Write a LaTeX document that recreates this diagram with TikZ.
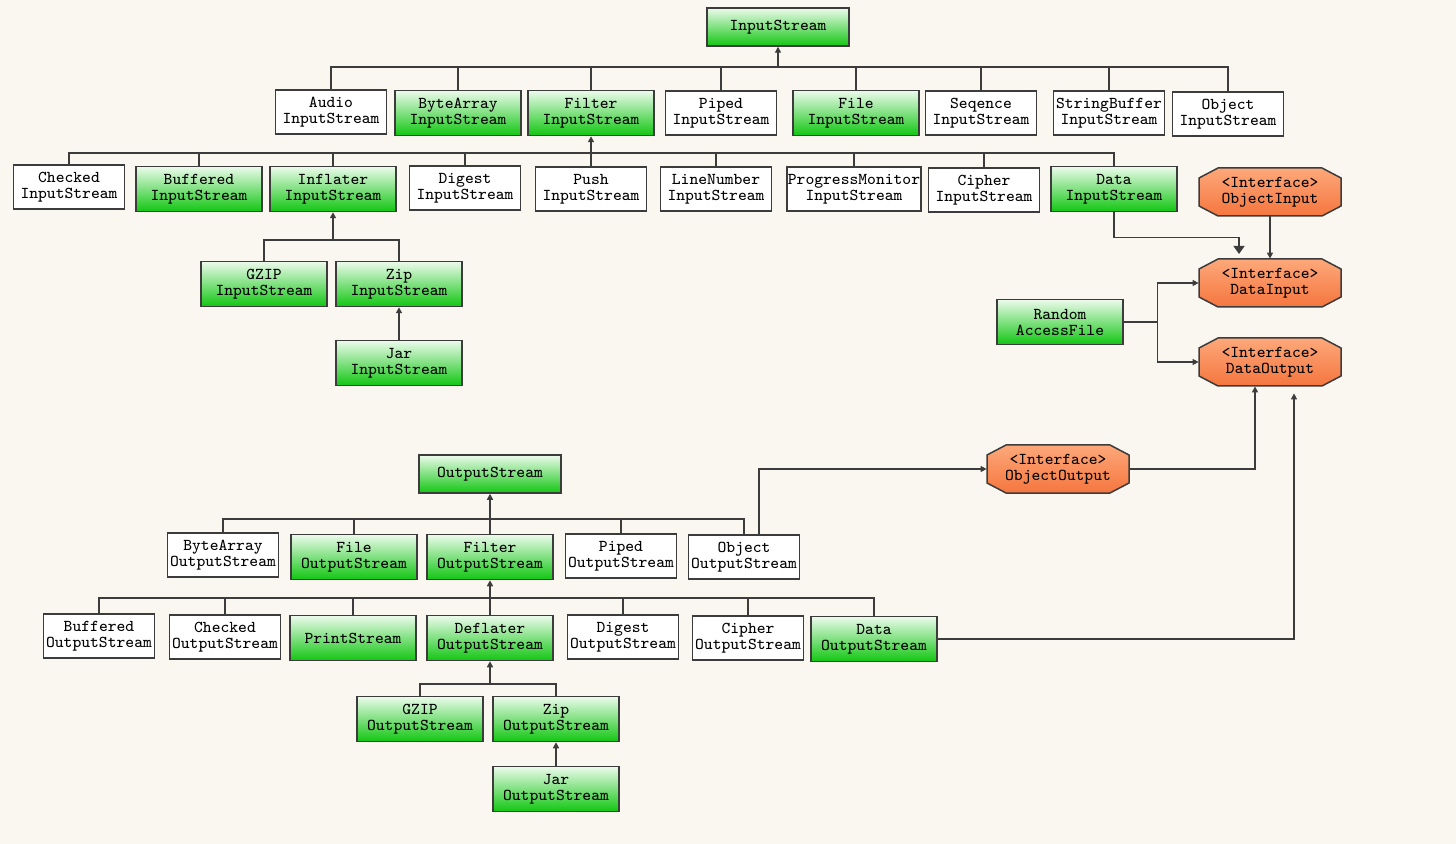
\documentclass[tikz,border=0pt]{standalone}
\usepackage{fontspec}
\usepackage{tikz}
\usetikzlibrary{positioning,calc}
\usetikzlibrary{arrows.meta}
\definecolor{Paper}{RGB}{250,247,240}
\definecolor{EdgeGray}{RGB}{60,60,60}
\definecolor{GreenTop}{RGB}{236,251,236}
\definecolor{GreenBot}{RGB}{18,198,18}
\definecolor{OrangeTop}{RGB}{253,168,122}
\definecolor{OrangeBot}{RGB}{245,118,62}
\newcommand\boxfont{\ttfamily\fontsize{8.3}{8}\selectfont}
\tikzset{
  wbox/.style={draw=EdgeGray,fill=white,line width=0.75pt,inner sep=0.5pt,
    minimum width=55.5pt,minimum height=22pt,align=center,font=\boxfont},
  gbox/.style={wbox,top color=GreenTop,bottom color=GreenBot,
    minimum width=63pt,minimum height=22.5pt},
  iface/.style={inner sep=0pt,minimum width=71pt,minimum height=24pt,align=center,font=\boxfont},
  octfill/.style={draw=EdgeGray,line width=0.75pt,top color=OrangeTop,bottom color=OrangeBot},
}
\tikzset{link/.style={draw=EdgeGray,line width=0.7pt}, arr/.style={link,-{Triangle[length=3pt,width=3pt]}},bigarr/.style={link,-{Triangle[length=4pt,width=5.5pt]}}}
\newcommand\octbox[1]{\shade[octfill] ($(#1)+(-52,-24)$) -- ($(#1)+(52,-24)$) -- ($(#1)+(71,-14)$) -- ($(#1)+(71,14)$) -- ($(#1)+(52,24)$) -- ($(#1)+(-52,24)$) -- ($(#1)+(-71,14)$) -- ($(#1)+(-71,-14)$) -- cycle;}

\begin{document}
\begin{tikzpicture}[x=0.5pt,y=-0.5pt]
\fill[Paper] (0,0) rectangle (1456,844);
\useasboundingbox (0,0) rectangle (1456,844);
\coordinate (busA) at (0,67);
\coordinate (busB) at (0,153);
\coordinate (busInf) at (0,240);
\coordinate (busC) at (0,519);
\coordinate (busD) at (0,598);
\coordinate (busE) at (0,684);

\node[gbox,minimum width=71pt,minimum height=19pt] (InS) at (778,27) {InputStream};
\node[wbox] (AudioIS) at (331,112) {Audio\\InputStream};
\node[gbox] (ByteIS) at (458,113) {ByteArray\\InputStream};
\node[gbox] (FilterIS) at (591,113) {Filter\\InputStream};
\node[wbox] (PipedIS) at (721,113) {Piped\\InputStream};
\node[gbox] (FileIS) at (856,113) {File\\InputStream};
\node[wbox] (SeqIS) at (981,113) {Seqence\\InputStream};
\node[wbox] (SbIS) at (1109,113) {StringBuffer\\InputStream};
\node[wbox] (ObjIS) at (1228,114) {Object\\InputStream};

\node[wbox] (CheckedIS) at (69,187) {Checked\\InputStream};
\node[gbox] (BufIS) at (199,189) {Buffered\\InputStream};
\node[gbox] (InfIS) at (333,189) {Inflater\\InputStream};
\node[wbox] (DigIS) at (465,188) {Digest\\InputStream};
\node[wbox] (PushIS) at (591,189) {Push\\InputStream};
\node[wbox] (LineIS) at (716,189) {LineNumber\\InputStream};
\node[wbox,minimum width=67pt] (ProgIS) at (854,189) {ProgressMonitor\\InputStream};
\node[wbox] (CiphIS) at (984,190) {Cipher\\InputStream};
\node[gbox] (DataIS) at (1114,189) {Data\\InputStream};

\node[gbox] (GzIS) at (264,284) {GZIP\\InputStream};
\node[gbox] (ZipIS) at (399,284) {Zip\\InputStream};
\node[gbox] (JarIS) at (399,363) {Jar\\InputStream};

\draw[link] (AudioIS.north) |- (ObjIS.north |- busA) -- (ObjIS.north);
\foreach \n in {ByteIS,FilterIS,PipedIS,FileIS,SeqIS,SbIS}
  \draw[link] (\n.north) -- (\n.north |- busA);
\draw[arr] (InS.south |- busA) -- (InS.south);

\draw[link] (CheckedIS.north) |- (DataIS.north |- busB) -- (DataIS.north);
\foreach \n in {BufIS,InfIS,DigIS,LineIS,ProgIS,CiphIS}
  \draw[link] (\n.north) -- (\n.north |- busB);
\draw[arr] (PushIS.north) -- (FilterIS.south);

\draw[link] (GzIS.north) |- (ZipIS.north |- busInf) -- (ZipIS.north);
\draw[arr] (InfIS.south |- busInf) -- (InfIS.south);
\draw[arr] (JarIS.north) -- (ZipIS.south);

\coordinate (oi) at (1270,192);
\coordinate (di) at (1270,283);
\coordinate (do) at (1270,362);
\coordinate (oo) at (1058,469);
\octbox{oi}
\octbox{di}
\octbox{do}
\octbox{oo}
\node[iface] (ObjIn) at (oi) {<Interface>\\ObjectInput};
\node[iface] (DataIn) at (di) {<Interface>\\DataInput};
\node[iface] (DataOut) at (do) {<Interface>\\DataOutput};
\node[iface] (ObjOut) at (oo) {<Interface>\\ObjectOutput};
\node[gbox] (RAF) at (1060,322) {Random\\AccessFile};

\coordinate (diTip) at (1239,254);
\draw[bigarr] (DataIS.south) -- ++(0,25) -| (diTip);
\draw[arr] (ObjIn.south) -- (DataIn.north);
\draw[link] (RAF.east) -- ++(34,0) coordinate (rafj);
\draw[arr] (rafj) |- (DataIn.west);
\draw[arr] (rafj) |- (DataOut.west);

\node[gbox,minimum width=71pt,minimum height=19pt] (OutS) at (490,474) {OutputStream};
\node[wbox] (ByteOS) at (223,555) {ByteArray\\OutputStream};
\node[gbox] (FileOS) at (354,557) {File\\OutputStream};
\node[gbox] (FilterOS) at (490,557) {Filter\\OutputStream};
\node[wbox] (PipedOS) at (621,556) {Piped\\OutputStream};
\node[wbox] (ObjOS) at (744,557) {Object\\OutputStream};

\node[wbox] (BufOS) at (99,636) {Buffered\\OutputStream};
\node[wbox] (ChkOS) at (225,637) {Checked\\OutputStream};
\node[gbox] (PrintS) at (353,638) {PrintStream};
\node[gbox] (DefOS) at (490,638) {Deflater\\OutputStream};
\node[wbox] (DigOS) at (623,637) {Digest\\OutputStream};
\node[wbox] (CiphOS) at (748,638) {Cipher\\OutputStream};
\node[gbox] (DataOS) at (874,639) {Data\\OutputStream};

\node[gbox] (GzOS) at (420,719) {GZIP\\OutputStream};
\node[gbox] (ZipOS) at (556,719) {Zip\\OutputStream};
\node[gbox] (JarOS) at (556,789) {Jar\\OutputStream};

\draw[link] (ByteOS.north) |- (ObjOS.north |- busC) -- (ObjOS.north);
\foreach \n in {FileOS,PipedOS}
  \draw[link] (\n.north) -- (\n.north |- busC);
\draw[arr] (FilterOS.north) -- (OutS.south);

\draw[link] (BufOS.north) |- (DataOS.north |- busD) -- (DataOS.north);
\foreach \n in {ChkOS,PrintS,DigOS,CiphOS}
  \draw[link] (\n.north) -- (\n.north |- busD);
\draw[arr] (DefOS.north) -- (FilterOS.south);

\draw[link] (GzOS.north) |- (ZipOS.north |- busE) -- (ZipOS.north);
\draw[arr] (DefOS.south |- busE) -- (DefOS.south);
\draw[arr] (JarOS.north) -- (ZipOS.south);

\draw[arr] ($(ObjOS.north)+(15,0)$) |- (ObjOut.west);
\draw[arr] (ObjOut.east) -| ($(DataOut.south)+(-15,0)$);
\draw[arr] (DataOS.east) -| ($(DataOut.south)+(24,7)$);
\end{tikzpicture}
\end{document}
